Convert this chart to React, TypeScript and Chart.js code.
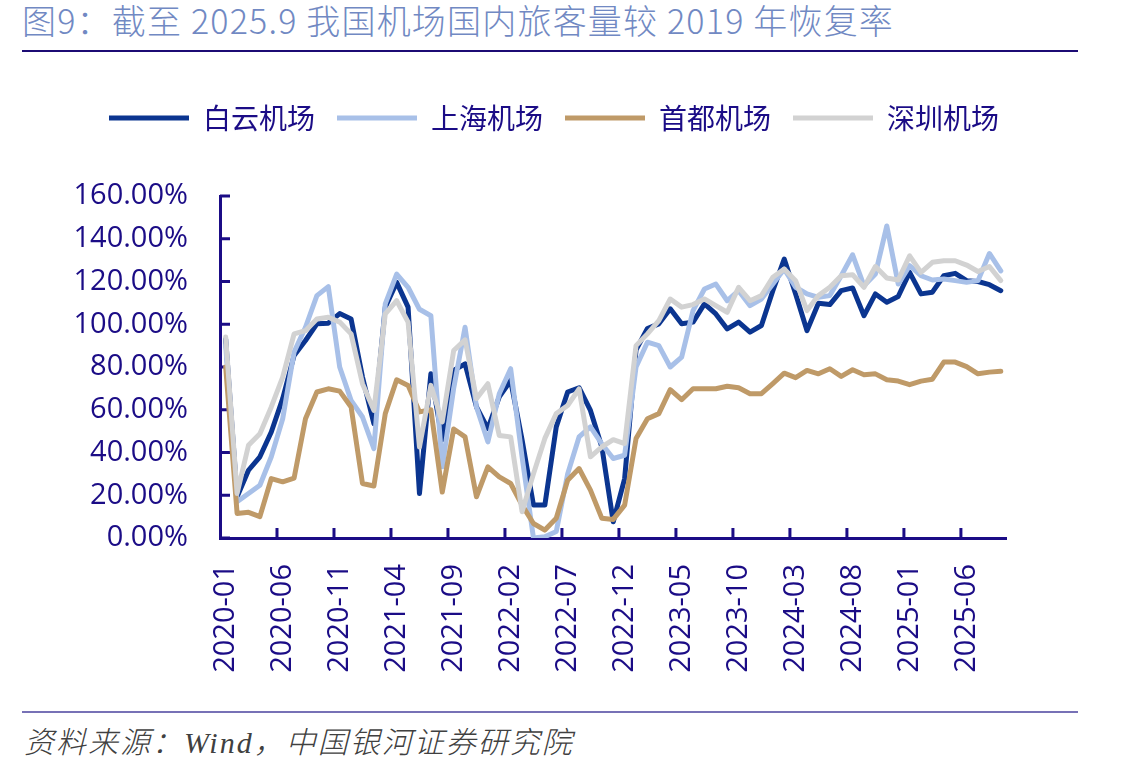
import React, { useEffect, useRef } from 'react';
import { Chart, registerables } from 'chart.js';

Chart.register(...registerables);

// Monthly categories 2020-01 … 2025-09
const months: string[] = [];
for (let y = 2020; y <= 2025; y++) {
  for (let m = 1; m <= 12; m++) {
    if (y === 2025 && m > 9) break;
    months.push(`${y}-${String(m).padStart(2, '0')}`);
  }
}

// Domestic passenger throughput vs. same month of 2019 (%)
const baiyun = [
  93, 19.3, 31.7, 38, 49.6, 65.2, 85.4, 92.4, 100.2, 100.5, 105, 102.5,
  75.3, 53.5, 108, 119.6, 108, 20.8, 76.8, 46, 78.4, 81.5, 61.3, 51.2,
  66, 73.7, 46, 15.4, 15.4, 52, 68.3, 70.3, 59.7, 42.6, 7.6, 27.8,
  88, 98, 100.2, 107.2, 100.2, 101, 109.5, 104.8, 97.8, 101, 96.3, 99.4,
  115.7, 130.5, 114.2, 97, 109.8, 109.2, 115.7, 117, 104, 114.2, 110.3, 113,
  124.3, 114.2, 115, 122.7, 123.8, 120.4, 120, 118.5, 115.7,
];
const shanghai = [
  90, 17, 20.8, 24.7, 38, 55.8, 87, 98.6, 113.4, 117.6, 80, 64.4,
  56.6, 41.8, 109.5, 123.5, 117.3, 107, 104, 33.3, 70, 98.6, 61.3, 45,
  67.5, 79.2, 38, 0, 0.6, 3, 30, 47.3, 52, 44, 37.2, 38.7,
  80, 91.6, 90, 80, 84.6, 106.4, 116.5, 118.8, 111, 115.7, 108.7, 111.8,
  118.8, 125.8, 117.3, 114.2, 112.6, 113.4, 122.7, 132.5, 118, 123.5, 146, 118.8,
  127.4, 122.7, 120.7, 121.2, 120.4, 119.6, 120.4, 133.1, 125,
];
const shoudu = [
  80, 11.5, 12, 10, 27.8, 26.3, 28, 55.8, 68.3, 69.8, 68.7, 61.3,
  25.5, 24.3, 58.2, 74, 71.4, 59, 60, 21.5, 51, 47.3, 19.3, 33.3,
  28.6, 25.5, 15.4, 6.8, 3.7, 9.2, 27, 32.5, 22.4, 9.2, 8.7, 15.4,
  46.5, 55.8, 58.2, 69.4, 64.7, 69.8, 69.8, 69.8, 71, 70.3, 67.5, 67.5,
  72.2, 77.1, 75, 78.4, 76.8, 79.2, 75.6, 78.7, 76.4, 76.8, 74, 73.4,
  71.7, 73.4, 74.3, 82.3, 82.3, 80.2, 76.8, 77.6, 78,
];
const shenzhen = [
  94, 20.8, 43.4, 48.8, 61.3, 75.3, 95.5, 97, 102.5, 103.3, 101, 95.5,
  72.2, 59.7, 104.8, 111, 101, 42.6, 71.4, 54.3, 87.7, 92.7, 65.2, 72.2,
  48, 47.3, 12.3, 30, 46.6, 58.2, 62, 69.8, 38, 42.6, 46, 44.2,
  90, 95.5, 101.7, 111.8, 108, 109.2, 111.8, 108.7, 105.6, 117.3, 111, 113.4,
  122, 125.8, 120.4, 106.4, 113.4, 117.3, 122.7, 123.2, 117.3, 127, 121.6, 120.7,
  132, 124.3, 129, 129.7, 129.7, 127.7, 124.7, 127, 120.4,
];

const seriesNames = ['白云机场', '上海机场', '首都机场', '深圳机场'];
const seriesColors = ['#0b3590', '#a8c0e8', '#bf9a68', '#d2d2d2'];
const yTicks = [0, 20, 40, 60, 80, 100, 120, 140, 160];
const labelStep = 5;

const NAVY = '#1b0c86';
const AXIS_FONT = '"Open Sans", "Noto Sans", sans-serif';
const CJK_FONT = '"Noto Sans CJK SC", "Noto Sans", sans-serif';

// Short tick marks pointing into the plot area
const insideTicks = {
  id: 'insideTicks',
  beforeDatasetsDraw(chart: any) {
    const { ctx, chartArea, scales } = chart;
    const xs = scales.x;
    const ys = scales.y;
    ctx.save();
    ctx.strokeStyle = NAVY;
    ctx.lineWidth = 3;
    ctx.beginPath();
    for (let i = labelStep; i < months.length; i += labelStep) {
      const px = (xs.getPixelForValue(i - 1) + xs.getPixelForValue(i)) / 2;
      ctx.moveTo(px, chartArea.bottom);
      ctx.lineTo(px, chartArea.bottom - 10);
    }
    for (const v of yTicks) {
      const py = ys.getPixelForValue(v);
      ctx.moveTo(chartArea.left, py);
      ctx.lineTo(chartArea.left + 10, py);
    }
    ctx.stroke();
    ctx.restore();
  },
};

// Extra room between the legend row and the plot
const legendGap = {
  id: 'legendGap',
  beforeInit(chart: any) {
    const legend = chart.legend;
    if (!legend) return;
    const fit = legend.fit;
    legend.fit = function () {
      fit.call(this);
      this.height += 54;
    };
  },
};

export default function App() {
  const canvasRef = useRef<HTMLCanvasElement | null>(null);

  useEffect(() => {
    if (!canvasRef.current) return;
    const data = [baiyun, shanghai, shoudu, shenzhen];
    const chart = new Chart(canvasRef.current, {
      type: 'line',
      data: {
        labels: months,
        datasets: data.map((d, k) => ({
          label: seriesNames[k],
          data: d,
          borderColor: seriesColors[k],
          backgroundColor: seriesColors[k],
          borderWidth: 5,
          borderCapStyle: 'round' as const,
          borderJoinStyle: 'round' as const,
          pointRadius: 0,
          pointHoverRadius: 0,
          pointStyle: 'line' as const,
          tension: 0,
          fill: false,
          order: 3 - k,
        })),
      },
      options: {
        responsive: false,
        animation: false,
        devicePixelRatio: 1,
        layout: { padding: { top: 22, right: 16, bottom: 12, left: 0 } },
        plugins: {
          tooltip: { enabled: false },
          legend: {
            position: 'top',
            labels: {
              usePointStyle: true,
              pointStyleWidth: 80,
              padding: 22,
              color: NAVY,
              font: { family: CJK_FONT, size: 28 },
              sort: (a: any, b: any) => a.datasetIndex - b.datasetIndex,
            },
          },
        },
        scales: {
          x: {
            type: 'category',
            offset: true,
            grid: { display: false, drawTicks: false },
            border: { display: true, color: NAVY, width: 3 },
            ticks: {
              autoSkip: false,
              minRotation: 90,
              maxRotation: 90,
              padding: 26,
              color: NAVY,
              font: { family: AXIS_FONT, size: 29 },
              callback: (_v: any, i: number) => (i % labelStep === 0 ? months[i] : ''),
            },
            afterFit: (s: any) => {
              s.height = 150;
            },
          },
          y: {
            min: 0,
            max: 160,
            grid: { display: false, drawTicks: false },
            border: { display: true, color: NAVY, width: 3 },
            ticks: {
              stepSize: 20,
              autoSkip: false,
              padding: 32,
              color: NAVY,
              font: { family: AXIS_FONT, size: 29 },
              callback: (v: any) => Number(v).toFixed(2) + '%',
            },
            afterFit: (s: any) => {
              s.width = 220;
            },
          },
          // empty spacer on the right so the plot ends short of the legend row
          pad: {
            type: 'linear',
            position: 'right',
            display: true,
            grid: { display: false, drawTicks: false },
            border: { display: false },
            ticks: { display: false },
            afterFit: (s: any) => {
              s.width = 101.5;
            },
          },
        },
      },
      plugins: [insideTicks, legendGap],
    });
    return () => chart.destroy();
  }, []);

  return (
    <div
      style={{
        position: 'absolute',
        left: 0,
        top: 0,
        width: 1124,
        height: 776,
        background: '#ffffff',
        overflow: 'hidden',
      }}
    >
      <div
        style={{
          position: 'absolute',
          left: 22,
          top: 0,
          fontSize: 34,
          letterSpacing: '1.2px',
          lineHeight: '40px',
          color: '#7189c3',
          fontFamily: CJK_FONT,
          fontWeight: 300,
          whiteSpace: 'nowrap',
        }}
      >
        图9：截至 2025.9 我国机场国内旅客量较 2019 年恢复率
      </div>
      <div style={{ position: 'absolute', left: 22, top: 50, width: 1056, height: 2, background: '#1c0b74' }} />
      <canvas
        ref={canvasRef}
        width={1124}
        height={640}
        style={{ position: 'absolute', left: 0, top: 60, width: 1124, height: 640 }}
      />
      <div style={{ position: 'absolute', left: 22, top: 711, width: 1056, height: 2, background: '#7771b6' }} />
      <div
        style={{
          position: 'absolute',
          left: 24,
          top: 722,
          fontSize: 30,
          letterSpacing: '2px',
          lineHeight: '42px',
          fontStyle: 'italic',
          fontWeight: 300,
          color: '#404040',
          fontFamily: '"Liberation Serif", "Noto Sans CJK SC", serif',
          whiteSpace: 'nowrap',
        }}
      >
        资料来源：Wind，中国银河证券研究院
      </div>
    </div>
  );
}
